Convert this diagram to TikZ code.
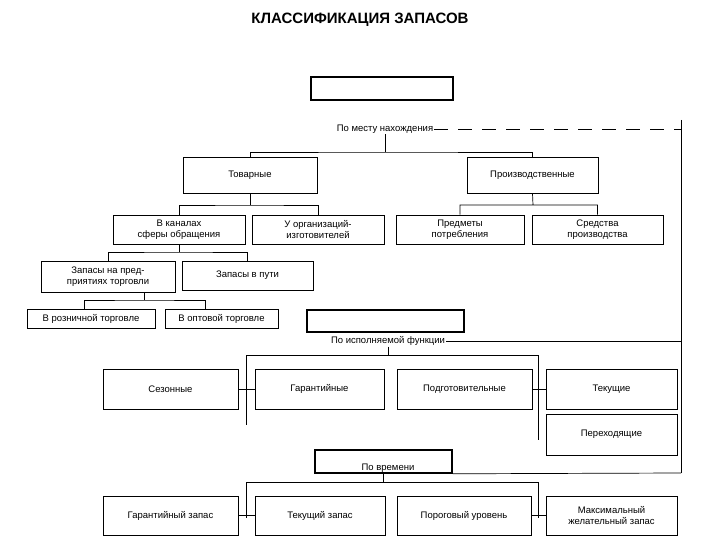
\documentclass[tikz,border=0pt]{standalone}
\usepackage{fontspec}
\setmainfont{Liberation Sans}
\begin{document}
\begin{tikzpicture}[x=1pt,y=-1pt,
  bx/.style={draw,line width=0.9pt,align=center,font=\fontsize{9.5}{11}\selectfont,inner sep=1pt},
  blk/.style={draw,line width=1.6pt},
  lbl/.style={font=\fontsize{9.5}{11}\selectfont,inner sep=1pt},
  ln/.style={line width=0.7pt}]
\useasboundingbox (0,0) rectangle (720,540);
\node[font=\bfseries\fontsize{15}{18}\selectfont] (title) at (360,20) {КЛАССИФИКАЦИЯ ЗАПАСОВ};
% group 1
\node[blk,minimum width=142pt,minimum height=23pt] (k1) at (382,88.5) {};
\node[lbl] (m1) at (385,129) {По месту нахождения};
\coordinate (r1) at (681,120);
\coordinate (r2) at (681,473);
\draw[ln] (r1) -- (r2);
\draw[ln,dashed,dash pattern=on 14pt off 10pt] (m1.east) -- (681,129);
\node[bx,minimum width=134pt,minimum height=36pt] (tov) at (250,175) {Товарные};
\node[bx,minimum width=131pt,minimum height=36pt] (pro) at (532.5,175) {Производственные};
\draw[ln] (m1.south) -- (385,152) (tov.north) |- (385,152) -| (pro.north);
\node[bx,minimum width=132pt,minimum height=29pt] (kan) at (179,229.5) {В каналах\\сферы обращения};
\node[bx,minimum width=132pt,minimum height=29pt] (izg) at (318,229.5) {У организаций-\\изготовителей};
\node[bx,minimum width=128pt,minimum height=29pt] (pot) at (460,229.5) {Предметы\\потребления};
\node[bx,minimum width=131pt,minimum height=29pt] (sre) at (597.5,229.5) {Средства\\производства};
\draw[ln] (tov.south) -- (250,205) (kan.north) |- (250,205) -| (izg.north);
\draw[ln] (pro.south) -- (533,205) (pot.north) |- (533,205) -| (sre.north);
\node[bx,minimum width=134pt,minimum height=31pt] (ptr) at (108,276.5) {Запасы на пред-\\приятиях торговли};
\node[bx,minimum width=131pt,minimum height=29pt] (put) at (247.5,275.5) {Запасы в пути};
\draw[ln] (kan.south) -- (179,252) (ptr.north) |- (179,252) -| (put.north);
\node[bx,minimum width=128pt,minimum height=19pt] (roz) at (91,318.5) {В розничной торговле};
\node[bx,minimum width=113pt,minimum height=19pt] (opt) at (221.5,318.5) {В оптовой торговле};
\coordinate (p1) at (144,292);
\draw[ln] (p1) -- (144,300) (84,309) |- (144,300) -| (205,309);
% group 2
\node[blk,minimum width=157pt,minimum height=22pt] (k2) at (385.5,321) {};
\node[lbl] (m2) at (388,341) {По исполняемой функции};
\draw[ln] (m2.east) -- (681,341);
\node[bx,minimum width=135pt,minimum height=40pt] (sez) at (170.5,389) {Сезонные};
\node[bx,minimum width=129pt,minimum height=40pt] (gar) at (319.5,389) {Гарантийные};
\node[bx,minimum width=135pt,minimum height=40pt] (pod) at (464.5,389) {Подготовительные};
\node[bx,minimum width=131pt,minimum height=40pt] (tek) at (611.5,389) {Текущие};
\node[bx,minimum width=131pt,minimum height=41pt] (per) at (611.5,434.5) {Переходящие};
\coordinate (b2l) at (246,355); \coordinate (b2r) at (538,355);
\draw[ln] (m2.south) -- (388,355) (b2l) -- (b2r);
\draw[ln] (b2l) -- (246,425) (sez.east) -- (gar.west);
\draw[ln] (b2r) -- (538,440) (pod.east) -- (tek.west);
% group 3
\node[blk,minimum width=137pt,minimum height=23pt] (k3) at (383.5,461.5) {};
\node[lbl] (m3) at (388,468) {По времени};
\draw[ln] (k3.south east) -- (r2);
\node[bx,minimum width=135pt,minimum height=39pt] (gz) at (170.5,515.5) {Гарантийный запас};
\node[bx,minimum width=130pt,minimum height=39pt] (tz) at (320,515.5) {Текущий запас};
\node[bx,minimum width=134pt,minimum height=39pt] (pu) at (464,515.5) {Пороговый уровень};
\node[bx,minimum width=131pt,minimum height=39pt] (mz) at (611.5,515.5) {Максимальный\\желательный запас};
\coordinate (b3l) at (246,482); \coordinate (b3r) at (538,482);
\draw[ln] (k3.south) -- (383.5,482) (b3l) -- (b3r);
\draw[ln] (b3l) -- (246,518) (gz.east) -- (tz.west);
\draw[ln] (b3r) -- (538,518) (pu.east) -- (mz.west);
\end{tikzpicture}
\end{document}
